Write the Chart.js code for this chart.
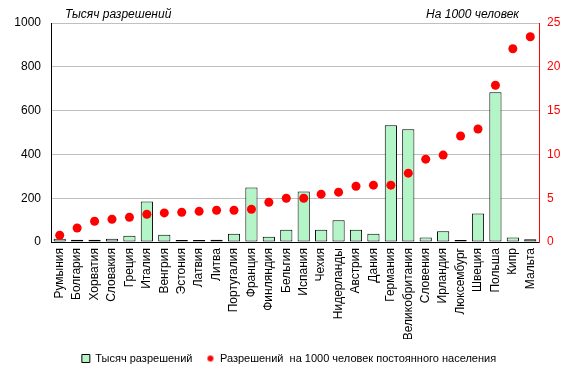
<!DOCTYPE html>
<html>
<head>
<meta charset="utf-8">
<script src="https://cdn.jsdelivr.net/npm/chart.js@4/dist/chart.umd.min.js"></script>
<style>
  html, body { margin: 0; padding: 0; background: #fff; }
  #wrap { width: 578px; height: 377px; position: relative; }
</style>
</head>
<body>
<div id="wrap"><canvas id="chart"></canvas></div>
<script>
// Countries, sorted by permits per 1000 residents
const countries = [
  "Румыния", "Болгария", "Хорватия", "Словакия", "Греция", "Италия", "Венгрия",
  "Эстония", "Латвия", "Литва", "Португалия", "Франция", "Финляндия", "Бельгия",
  "Испания", "Чехия", "Нидерланды", "Австрия", "Дания", "Германия",
  "Великобритания", "Словения", "Ирландия", "Люксембург", "Швеция", "Польша",
  "Кипр", "Мальта"
]

// Thousand permits (left axis)
const permitsThousands = [
  15, 10, 10, 15, 29, 185, 33, 3, 3, 10, 38, 249, 24, 56,
  231, 56, 99, 56, 38, 533, 515, 20, 49, 4, 130, 684, 20, 12
]

// Permits per 1000 residents (right axis)
const permitsPer1000 = [
  0.77, 1.6, 2.37, 2.6, 2.83, 3.17, 3.32, 3.4, 3.5, 3.63, 3.63, 3.74, 4.54, 5.0,
  5.0, 5.46, 5.69, 6.37, 6.49, 6.49, 7.86, 9.46, 9.92, 12.1, 12.9, 17.9, 22.06, 23.43
]

const leftTicks = [0, 200, 400, 600, 800, 1000]
const rightTicks = [0, 5, 10, 15, 20, 25]

const FONT = "'Liberation Sans', Arial, sans-serif"
const BAR_FILL = "#b4f5c8"

// small red dot for the legend marker
const legendDot = document.createElement("canvas")
legendDot.width = 8
legendDot.height = 8
{
  const c = legendDot.getContext("2d")
  c.fillStyle = "#ff0000"
  c.beginPath()
  c.arc(4, 4, 3, 0, Math.PI * 2)
  c.fill()
}

// Italic captions above the two value axes
const captions = {
  id: "captions",
  afterDraw(chart) {
    const { ctx, chartArea } = chart
    ctx.save()
    ctx.font = "italic 12px " + FONT
    ctx.fillStyle = "#000"
    ctx.textBaseline = "alphabetic"
    ctx.textAlign = "left"
    ctx.fillText("Тысяч разрешений", chartArea.left + 14, 18)
    ctx.textAlign = "right"
    ctx.fillText("На 1000 человек", chartArea.right - 20, 18)
    ctx.restore()
  }
}

new Chart(document.getElementById("chart"), {
  type: "bar",
  data: {
    labels: countries,
    datasets: [
      {
        label: "Тысяч разрешений",
        data: permitsThousands,
        backgroundColor: BAR_FILL,
        borderColor: "#000",
        borderWidth: 1,
        borderSkipped: false,
        barPercentage: 0.7,
        categoryPercentage: 1,
        minBarLength: 2,
        yAxisID: "y",
        order: 2
      },
      {
        type: "line",
        label: "Разрешений  на 1000 человек постоянного населения",
        data: permitsPer1000,
        showLine: false,
        pointRadius: 4.5,
        pointHoverRadius: 4.5,
        pointBackgroundColor: "#ff0000",
        pointBorderWidth: 0,
        backgroundColor: "#ff0000",
        borderColor: "#ff0000",
        yAxisID: "y1",
        order: 1
      }
    ]
  },
  options: {
    responsive: true,
    maintainAspectRatio: false,
    animation: false,
    layout: { padding: { top: 23, left: 0, right: 0, bottom: 3 } },
    plugins: {
      tooltip: { enabled: false },
      legend: {
        position: "bottom",
        labels: {
          font: { family: FONT, size: 11 },
          color: "#000",
          boxWidth: 8,
          boxHeight: 8,
          padding: 14,
          usePointStyle: true,
          generateLabels(chart) {
            const items = Chart.defaults.plugins.legend.labels.generateLabels(chart)
            items.sort((a, b) => a.datasetIndex - b.datasetIndex)
            items.forEach(it => {
              if (it.datasetIndex === 0) {
                it.pointStyle = "rect"
                it.fillStyle = BAR_FILL
                it.strokeStyle = "#000"
                it.lineWidth = 1
              } else {
                it.pointStyle = legendDot
              }
            })
            return items
          }
        }
      }
    },
    scales: {
      x: {
        grid: { display: false, drawTicks: false },
        border: { color: "#000", width: 1 },
        ticks: {
          autoSkip: false,
          maxRotation: 90,
          minRotation: 90,
          padding: 6,
          color: "#000",
          font: { family: FONT, size: 12 }
        },
        afterFit(scale) { scale.height = 97 }
      },
      y: {
        position: "left",
        min: 0,
        max: 1000,
        afterBuildTicks(scale) { scale.ticks = leftTicks.map(v => ({ value: v })) },
        grid: { color: "#c0c0c0", drawTicks: false },
        border: { color: "#000", width: 1 },
        ticks: {
          padding: 10,
          color: "#000",
          font: { family: FONT, size: 12 },
          callback: v => String(v)
        },
        afterFit(scale) { scale.width = 51 }
      },
      y1: {
        position: "right",
        min: 0,
        max: 25,
        afterBuildTicks(scale) { scale.ticks = rightTicks.map(v => ({ value: v })) },
        grid: { display: false, drawTicks: false },
        border: { color: "#ff0000", width: 1 },
        ticks: {
          padding: 8,
          color: "#ff0000",
          font: { family: FONT, size: 12 },
          callback: v => String(v)
        },
        afterFit(scale) { scale.width = 39 }
      }
    }
  },
  plugins: [captions]
})
</script>
</body>
</html>
